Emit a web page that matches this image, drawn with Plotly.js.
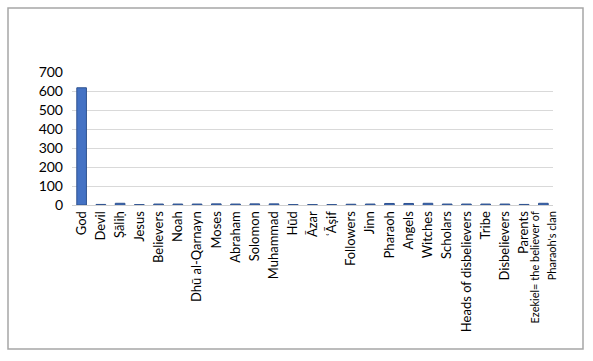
<!DOCTYPE html>
<html>
<head>
<meta charset="utf-8">
<script src="https://cdn.plot.ly/plotly-3.0.1.min.js"></script>
<style>html,body{margin:0;padding:0;background:#fff;}#chart{width:593px;height:361px;}</style>
</head>
<body>
<div id="chart"></div>
<script>
const categories = ["God","Devil","Ṣāliḥ","Jesus","Believers","Noah","Dhū al-Qarnayn","Moses","Abraham","Solomon","Muhammad","Hūd","Āzar","ʿĀṣif","Followers","Jinn","Pharaoh","Angels","Witches","Scholars","Heads of disbelievers","Tribe","Disbelievers","Parents","Ezekiel= the believer of Pharaoh's clan"];
const tickLabels = ["God","Devil","Ṣāliḥ","Jesus","Believers","Noah","Dhū al-Qarnayn","Moses","Abraham","Solomon","Muhammad","Hūd","Āzar","ʿĀṣif","Followers","Jinn","Pharaoh","Angels","Witches","Scholars","Heads of disbelievers","Tribe","Disbelievers","Parents","<span style=\"font-size:11px\">Ezekiel= the believer of</span><br><span style=\"font-size:11px\">Pharaoh's clan</span>"];
const values = [617,3,9,2,5,5,5,6,5,6,6,2,2,2,4,5,8,8,9,5,5,5,5,3,9];
const yTicks = [0,100,200,300,400,500,600,700];

const trace = {
  type: 'bar',
  x: categories,
  y: values,
  marker: {color: '#4472C4', line: {color: '#2F528F', width: 1}},
  hoverinfo: 'x+y'
};

const layout = {
  width: 593, height: 361,
  margin: {l: 72, r: 40, t: 72, b: 156},
  paper_bgcolor: '#fff', plot_bgcolor: '#fff',
  showlegend: false,
  bargap: 0.5,
  font: {family: 'Lato, "Open Sans", sans-serif', color: '#000'},
  xaxis: {
    type: 'category',
    tickangle: -90,
    tickvals: categories,
    ticktext: tickLabels,
    tickfont: {size: 13, color: '#000'},
    showline: true, linecolor: '#d0d0d0', linewidth: 1,
    ticks: '', showgrid: false
  },
  yaxis: {
    range: [0, 700],
    tickvals: yTicks,
    ticktext: yTicks.map(String),
    tickfont: {size: 14, color: '#000'},
    showgrid: true, gridcolor: '#d9d9d9', gridwidth: 1,
    zeroline: false, showline: false, ticks: '', ticklabelstandoff: 8
  },
  shapes: [{
    type: 'rect', xref: 'paper', yref: 'paper',
    x0: (8-72)/481, x1: (583-72)/481,
    y0: (205-349)/133, y1: (205-8)/133,
    line: {color: '#a6a6a6', width: 1.5}, fillcolor: 'rgba(0,0,0,0)', layer: 'below'
  }]
};

Plotly.newPlot('chart', [trace], layout, {displayModeBar: false, staticPlot: true});
</script>
</body>
</html>
